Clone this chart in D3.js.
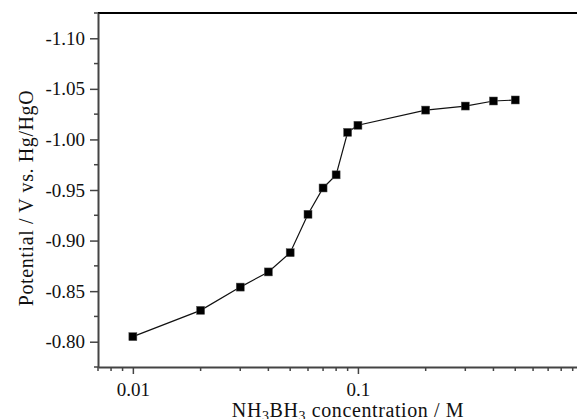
<!DOCTYPE html>
<html><head><meta charset="utf-8">
<script src="https://cdn.jsdelivr.net/npm/d3@7"></script>
<style>body{margin:0;background:#fff}svg{display:block}</style>
</head><body>
<svg id="c" width="577" height="419"></svg>
<script>
const concentration = [0.01, 0.02, 0.03, 0.04, 0.05, 0.06, 0.07, 0.08, 0.09, 0.1, 0.2, 0.3, 0.4, 0.5];
const potential = [-0.805, -0.831, -0.854, -0.869, -0.888, -0.926, -0.952, -0.965, -1.007, -1.014, -1.029, -1.033, -1.038, -1.039];
const yTicks = [-1.10, -1.05, -1.00, -0.95, -0.90, -0.85, -0.80];
const xTicks = [0.01, 0.1, 1];

const svg = d3.select("#c");
const L = 98, R = 583, T = 13, B = 367;
const x = d3.scaleLog().domain([0.007, 1]).range([L, R]);
const y = d3.scaleLinear().domain([-0.775, -1.125]).range([B, T]);
const font = "'Liberation Serif', 'Times New Roman', serif";

// frame
svg.append("line").attr("x1", L).attr("x2", R).attr("y1", T).attr("y2", T).attr("stroke", "#000").attr("stroke-width", 2);
svg.append("line").attr("x1", R).attr("x2", R).attr("y1", T).attr("y2", B).attr("stroke", "#000").attr("stroke-width", 2);

// y axis
const yMinor = d3.range(-1.125, -0.774, 0.025).map(v => +v.toFixed(3)).filter(v => !yTicks.some(t => Math.abs(t - v) < 1e-6));
const yAx = svg.append("g").attr("transform", `translate(${L},0)`)
  .call(d3.axisLeft(y).tickValues(yTicks).tickFormat(d => d.toFixed(2)).tickSize(8).tickPadding(5).tickSizeOuter(0));
yAx.attr("font-family", font);
yAx.select(".domain").attr("stroke", "#444").attr("stroke-width", 2);
yAx.selectAll(".tick line").attr("stroke", "#444").attr("stroke-width", 1.5);
yAx.selectAll(".tick text").attr("font-family", font).attr("font-size", 19).attr("fill", "#111");
yAx.selectAll(".minor").data(yMinor).enter().append("line").attr("class", "minor")
  .attr("x1", 0).attr("x2", -4).attr("y1", d => y(d)).attr("y2", d => y(d)).attr("stroke", "#444").attr("stroke-width", 1.5);

// x axis
const xMinor = [];
[0.001, 0.01, 0.1].forEach(dec => { for (let k = 2; k <= 9; k++) { const v = dec * k; if (v >= 0.007 && v <= 1) xMinor.push(v); } });
const xAx = svg.append("g").attr("transform", `translate(0,${B})`)
  .call(d3.axisBottom(x).tickValues(xTicks).tickFormat(d => d === 1 ? "1" : String(d)).tickSize(7).tickPadding(9).tickSizeOuter(0));
xAx.attr("font-family", font);
xAx.select(".domain").attr("stroke", "#444").attr("stroke-width", 2);
xAx.selectAll(".tick line").attr("stroke", "#444").attr("stroke-width", 1.5);
xAx.selectAll(".tick text").attr("font-family", font).attr("font-size", 19).attr("fill", "#111");
xAx.selectAll(".minor").data(xMinor).enter().append("line").attr("class", "minor")
  .attr("x1", d => x(d)).attr("x2", d => x(d)).attr("y1", 0).attr("y2", 4).attr("stroke", "#444").attr("stroke-width", 1.5);

// line + markers
const pts = concentration.map((c, i) => [c, potential[i]]);
svg.append("path").datum(pts)
  .attr("d", d3.line().x(d => x(d[0])).y(d => y(d[1])))
  .attr("fill", "none").attr("stroke", "#111").attr("stroke-width", 1.2);
svg.selectAll(".m").data(pts).enter().append("rect").attr("class", "m")
  .attr("x", d => x(d[0]) - 4).attr("y", d => y(d[1]) - 4).attr("width", 8).attr("height", 8)
  .attr("fill", "#000").attr("stroke", "#555").attr("stroke-width", 0.5);

// axis labels
svg.append("text").attr("transform", `translate(33,198) rotate(-90)`)
  .attr("text-anchor", "middle").attr("font-family", font).attr("font-size", 20).attr("letter-spacing", 0.6).attr("fill", "#111")
  .text("Potential / V vs. Hg/HgO");
const xl = svg.append("text").attr("x", 348).attr("y", 417).attr("text-anchor", "middle")
  .attr("font-family", font).attr("font-size", 20).attr("letter-spacing", 0.6).attr("fill", "#111");
xl.append("tspan").text("NH");
xl.append("tspan").attr("dy", 4).attr("font-size", 14).text("3");
xl.append("tspan").attr("dy", -4).text("BH");
xl.append("tspan").attr("dy", 4).attr("font-size", 14).text("3");
xl.append("tspan").attr("dy", -4).text(" concentration / M");
</script>
</body></html>
